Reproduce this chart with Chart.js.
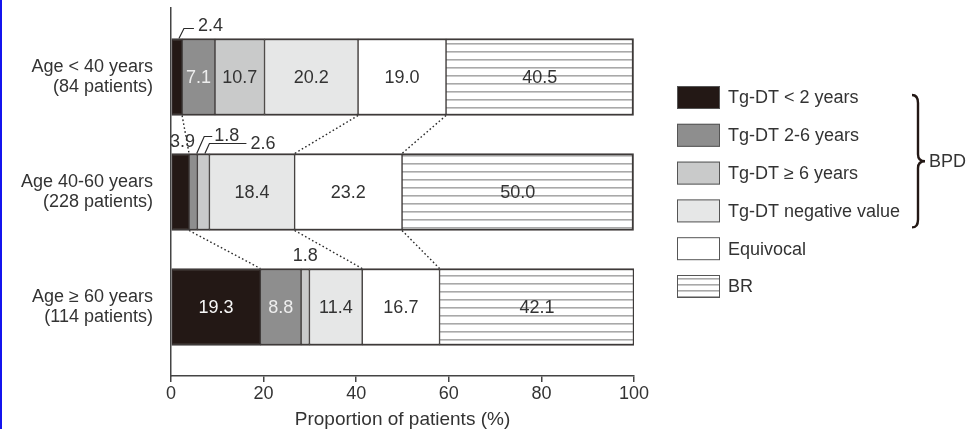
<!DOCTYPE html>
<html>
<head>
<meta charset="utf-8">
<script src="https://cdn.jsdelivr.net/npm/chart.js@4/dist/chart.umd.min.js"></script>
<style>
  html, body { margin: 0; padding: 0; background: #fff; }
  #wrap { position: relative; width: 969px; height: 429px; overflow: hidden; }
  #wrap::before { content: ""; position: absolute; left: 0; top: 0; width: 2px; height: 429px; background: #1414ee; z-index: 2; }
  canvas { display: block; }
</style>
</head>
<body>
<div id="wrap"><canvas id="chart" width="969" height="429"></canvas></div>
<script>
// ---- data ----
const ageGroups = [
  ['Age < 40 years', '(84 patients)'],
  ['Age 40-60 years', '(228 patients)'],
  ['Age \u2265 60 years', '(114 patients)']
];
const seriesNames = ['Tg-DT < 2 years', 'Tg-DT 2-6 years', 'Tg-DT \u2265 6 years', 'Tg-DT negative value', 'Equivocal', 'BR'];
const tgdtUnder2   = [2.4, 3.9, 19.3];
const tgdt2to6     = [7.1, 1.8, 8.8];
const tgdtOver6    = [10.7, 2.6, 1.8];
const tgdtNegative = [20.2, 18.4, 11.4];
const equivocal    = [19.0, 23.2, 16.7];
const br           = [40.5, 50.0, 42.1];
const xTicks = [0, 20, 40, 60, 80, 100];

// ---- styling ----
const FONT = '"Liberation Sans", Arial, Helvetica, sans-serif';
const TEXT = '#333333';
const EDGE = '#3e3a39';

function stripes(gap, offset, color) {
  const c = document.createElement('canvas');
  c.width = 8; c.height = gap;
  const g = c.getContext('2d');
  g.fillStyle = '#ffffff';
  g.fillRect(0, 0, 8, gap);
  g.fillStyle = color;
  g.fillRect(0, offset, 8, 1.6);
  return g.createPattern(c, 'repeat');
}
const brFill = stripes(8, 3, '#a9a9a9');
const brLegendFill = stripes(6, 2, '#a9a9a9');

const seriesValues = [tgdtUnder2, tgdt2to6, tgdtOver6, tgdtNegative, equivocal, br];
const seriesFills = ['#231815', '#8e8e8e', '#c9caca', '#e6e7e7', '#ffffff', brFill];
const labelColors = ['#f7f7f7', '#eeeeee', TEXT, TEXT, TEXT, TEXT];

// small segments labelled outside the bar: leader points are offsets from
// the segment centre at the top edge of the bar
const callouts = [
  { series: 0, row: 0, leader: [[2, 0], [7, -10], [17, -10]], text: [21, -12], align: 'left' },
  { series: 0, row: 1, leader: null, text: [2, -11], align: 'center' },
  { series: 1, row: 1, leader: [[3.5, 0], [11, -17], [19, -17]], text: [21, -17], align: 'left' },
  { series: 2, row: 1, leader: [[1.5, 0], [6, -10], [43, -10]], text: [47, -9], align: 'left' },
  { series: 2, row: 2, leader: null, text: [0, -12], align: 'center' }
];
// dotted guides join these stack boundaries (after series index) between rows
const guideAfter = [0, 3, 4];

const last = seriesNames.length - 1;
const datasets = seriesNames.map((name, i) => ({
  label: name,
  data: seriesValues[i].map((v, r) => ({ x: v, y: r })),
  backgroundColor: seriesFills[i],
  legendFill: i === last ? brLegendFill : seriesFills[i],
  borderColor: EDGE,
  borderWidth: { top: 2, bottom: 2, left: 1, right: i === last ? 2 : 1 },
  borderSkipped: false,
  barThickness: 77,
  stack: 'all'
}));

const segmentLabels = {
  id: 'segmentLabels',
  afterDatasetsDraw(chart) {
    const ctx = chart.ctx;
    ctx.save();
    ctx.font = '18px ' + FONT;
    ctx.textBaseline = 'middle';

    // dotted guides between neighbouring rows
    const metas = datasets.map((d, i) => chart.getDatasetMeta(i));
    ctx.strokeStyle = '#2b2b2b';
    ctx.lineWidth = 1.4;
    ctx.setLineDash([1.6, 2.4]);
    for (let r = 0; r < ageGroups.length - 1; r++) {
      guideAfter.forEach(s => {
        const a = metas[s].data[r], b = metas[s].data[r + 1];
        ctx.beginPath();
        ctx.moveTo(a.x, a.y + a.height / 2);
        ctx.lineTo(b.x, b.y - b.height / 2);
        ctx.stroke();
      });
    }
    ctx.setLineDash([]);

    metas.forEach((meta, s) => {
      meta.data.forEach((el, r) => {
        const v = seriesValues[s][r];
        const txt = v.toFixed(1);
        const cx = (el.x + el.base) / 2;
        const top = el.y - el.height / 2;
        const co = callouts.find(c => c.series === s && c.row === r);
        if (co) {
          if (co.leader) {
            ctx.strokeStyle = '#2b2b2b';
            ctx.lineWidth = 1.2;
            ctx.beginPath();
            co.leader.forEach(([dx, dy], k) => k ? ctx.lineTo(cx + dx, top + dy) : ctx.moveTo(cx + dx, top + dy));
            ctx.stroke();
          }
          ctx.fillStyle = TEXT;
          ctx.textAlign = co.align;
          ctx.fillText(txt, cx + co.text[0], top + co.text[1]);
        } else {
          ctx.fillStyle = labelColors[s];
          ctx.textAlign = 'center';
          ctx.fillText(txt, cx, el.y + 1);
        }
      });
    });
    ctx.restore();
  }
};

const sideLegend = {
  id: 'sideLegend',
  afterDraw(chart) {
    const ctx = chart.ctx;
    const left = chart.chartArea.right + 43;
    const first = 86, step = 37.8, bw = 43, bh = 23;
    ctx.save();
    ctx.font = '18px ' + FONT;
    ctx.textBaseline = 'middle';
    ctx.textAlign = 'left';
    chart.data.datasets.forEach((d, i) => {
      const y = first + i * step;
      ctx.fillStyle = d.legendFill;
      ctx.fillRect(left, y, bw, bh);
      ctx.strokeStyle = '#555555';
      ctx.lineWidth = 1;
      ctx.strokeRect(left + 0.5, y + 0.5, bw - 1, bh - 1);
      ctx.fillStyle = TEXT;
      ctx.fillText(d.label, left + bw + 8, y + bh / 2 + 1);
    });
    // brace grouping the four Tg-DT entries
    const yTop = first + 9, yBot = first + 3 * step + bh + 5;
    const yMid = (yTop + yBot) / 2;
    const x0 = 912, xm = 918;
    ctx.strokeStyle = '#231815';
    ctx.lineWidth = 2.4;
    ctx.beginPath();
    ctx.moveTo(x0, yTop);
    ctx.quadraticCurveTo(xm, yTop, xm, yTop + 8);
    ctx.lineTo(xm, yMid - 7);
    ctx.quadraticCurveTo(xm, yMid, xm + 7, yMid);
    ctx.quadraticCurveTo(xm, yMid, xm, yMid + 7);
    ctx.lineTo(xm, yBot - 8);
    ctx.quadraticCurveTo(xm, yBot, x0, yBot);
    ctx.stroke();
    ctx.fillStyle = TEXT;
    ctx.fillText('BPD', 929, yMid + 1);
    ctx.restore();
  }
};

new Chart(document.getElementById('chart'), {
  type: 'bar',
  data: { datasets },
  plugins: [segmentLabels, sideLegend],
  options: {
    indexAxis: 'y',
    responsive: false,
    animation: false,
    devicePixelRatio: 1,
    layout: { padding: { left: 0, top: 8, right: 335, bottom: 0 } },
    plugins: { legend: { display: false }, tooltip: { enabled: false } },
    scales: {
      x: {
        type: 'linear',
        min: 0, max: 100,
        stacked: true,
        afterBuildTicks: s => { s.ticks = xTicks.map(v => ({ value: v })); },
        afterFit: s => { s.height = 53; },
        ticks: { font: { family: FONT, size: 18 }, color: TEXT, padding: 1 },
        grid: { drawOnChartArea: false, drawTicks: true, tickLength: 6, color: '#444444', lineWidth: 1.5 },
        border: { color: '#444444', width: 1.5 },
        title: {
          display: true,
          text: 'Proportion of patients (%)',
          font: { family: FONT, size: 19 },
          color: TEXT,
          padding: { top: 0, bottom: -2 }
        }
      },
      y: {
        type: 'linear',
        min: -0.6, max: 2.6,
        reverse: true,
        offset: false,
        stacked: true,
        afterBuildTicks: s => { s.ticks = ageGroups.map((g, i) => ({ value: i })); },
        afterFit: s => { s.width = 171; s.paddingTop = 0; s.paddingBottom = 0; },
        ticks: {
          callback: v => ageGroups[v],
          font: { family: FONT, size: 18, lineHeight: 1.15 },
          color: TEXT,
          padding: 18
        },
        grid: { display: false, drawTicks: false },
        border: { color: '#444444', width: 1.5 }
      }
    }
  }
});
</script>
</body>
</html>
